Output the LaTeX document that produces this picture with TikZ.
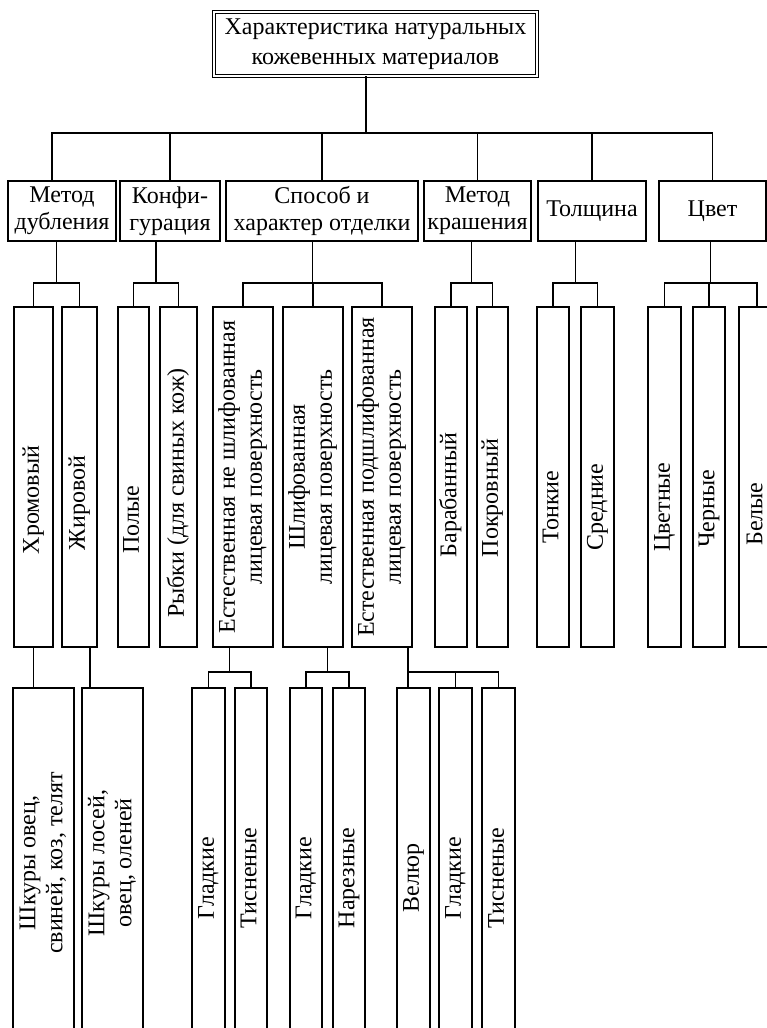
\documentclass[tikz,border=0pt]{standalone}
\usepackage{fontspec}
\setmainfont{Liberation Serif}
\usepackage{tikz}
\usetikzlibrary{calc}
\newcommand{\vlab}[2][0pt]{\rotatebox{90}{\begin{tabular}{@{}c@{}}#2\end{tabular}\hspace*{#1}}}

\begin{document}
\begin{tikzpicture}[
	x=1pt, y=-1pt,
	every node/.style={font=\fontsize{24}{27}\selectfont},
	box/.style={draw, line width=1.4pt, inner sep=0pt, outer sep=0pt, align=center},
	head/.style={box, minimum height=60pt},
	col/.style={box, minimum height=340pt},
	leaf/.style={box, minimum height=380pt},
	link/.style={line width=1.4pt}
	]
	\useasboundingbox (0,0) rectangle (767,1028);
	\clip (0,0) rectangle (767,1028);
	\node[box, double, double distance=2.5pt, line width=1pt, minimum width=323pt, minimum height=64pt, font=\fontsize{24}{30}\selectfont] (top) at (375.5,44) {Характеристика натуральных\\кожевенных материалов};
	\node[head, minimum width=108pt] (tan) at (62,211) {Метод\\дубления};
	\node[head, minimum width=100pt] (cfg) at (170,211) {Конфи-\\гурация};
	\node[head, minimum width=192pt] (fin) at (322,211) {Способ и\\характер отделки};
	\node[head, minimum width=107pt] (dye) at (477.5,211) {Метод\\крашения};
	\node[head, minimum width=108pt] (thk) at (592,211) {Толщина};
	\node[head, minimum width=107pt] (clr) at (712.5,211) {Цвет};
	\node[col, minimum width=39pt] (chrom) at (33.5,477) {\vlab[46pt]{Хромовый}};
	\node[col, minimum width=35pt] (fat) at (79.5,477) {\vlab[52pt]{Жировой}};
	\node[col, minimum width=31pt] (hollow) at (133.5,477) {\vlab[86pt]{Полые}};
	\node[col, minimum width=37pt] (fish) at (178.5,477) {\vlab[32pt]{Рыбки (для свиных кож)}};
	\node[col, minimum width=60pt] (nat) at (243,477) {\vlab{Естественная не шлифованная\\лицевая поверхность}};
	\node[col, minimum width=60pt] (grd) at (313,477) {\vlab{Шлифованная\\лицевая поверхность}};
	\node[col, minimum width=60pt] (semi) at (382,477) {\vlab{Естественная подшлифованная\\лицевая поверхность}};
	\node[col, minimum width=32pt] (drum) at (451,477) {\vlab[36pt]{Барабанный}};
	\node[col, minimum width=31pt] (cover) at (492.5,477) {\vlab[42pt]{Покровный}};
	\node[col, minimum width=32pt] (thin) at (553,477) {\vlab[60pt]{Тонкие}};
	\node[col, minimum width=33pt] (med) at (597.5,477) {\vlab[60pt]{Средние}};
	\node[col, minimum width=33pt] (colr) at (664.5,477) {\vlab[60pt]{Цветные}};
	\node[col, minimum width=32pt] (blk) at (709,477) {\vlab[64pt]{Черные}};
	\node[col, minimum width=36pt] (wht) at (757,477) {\vlab[74pt]{Белые}};
	\node[leaf, minimum height=350pt, minimum width=61pt] (skin1) at (43.5,863) {\vlab{Шкуры овец,\\свиней, коз, телят}};
	\node[leaf, minimum height=350pt, minimum width=61pt] (skin2) at (112.5,863) {\vlab{Шкуры лосей,\\овец, оленей}};
	\node[leaf, minimum width=33pt] (smA) at (208.5,878) {\vlab{Гладкие}};
	\node[leaf, minimum width=32pt] (embA) at (251,878) {\vlab{Тисненые}};
	\node[leaf, minimum width=32pt] (smB) at (306,878) {\vlab{Гладкие}};
	\node[leaf, minimum width=32pt] (cut) at (349,878) {\vlab{Нарезные}};
	\node[leaf, minimum width=33pt] (vel) at (413.5,878) {\vlab{Велюр}};
	\node[leaf, minimum width=33pt] (smC) at (455.5,878) {\vlab{Гладкие}};
	\node[leaf, minimum width=33pt] (embC) at (498.5,878) {\vlab{Тисненые}};
	\coordinate (bar) at ($([xshift=-9.5pt]top.south)+(0,57)$);
	\draw[link] ([xshift=-9.5pt]top.south) -- (bar);
	\draw[link] ([xshift=-10pt]tan.north) |- (bar) -| (clr.north);
	\foreach \n in {cfg,fin,dye,thk}
		\draw[link] (\n.north) -- (\n.north |- bar);
	\coordinate (jt) at ($(chrom.north)!.5!(fat.north)+(0,-24)$);
	\draw[link] (tan.south -| jt) -- (jt);
	\draw[link] (chrom.north) |- (jt) -| (fat.north);
	\coordinate (jc) at ($(hollow.north)!.5!(fish.north)+(0,-24)$);
	\draw[link] (cfg.south -| jc) -- (jc);
	\draw[link] (hollow.north) |- (jc) -| (fish.north);
	\coordinate (jf) at ($(nat.north)!.5!(semi.north)+(0,-24)$);
	\draw[link] (fin.south -| jf) -- (jf);
	\draw[link] (nat.north) |- (jf) -| (semi.north);
	\draw[link] (grd.north) -- (grd.north |- jf);
	\coordinate (jd) at ($(drum.north)!.5!(cover.north)+(0,-24)$);
	\draw[link] (dye.south -| jd) -- (jd);
	\draw[link] (drum.north) |- (jd) -| (cover.north);
	\coordinate (jh) at ($(thin.north)!.5!(med.north)+(0,-24)$);
	\draw[link] (thk.south -| jh) -- (jh);
	\draw[link] (thin.north) |- (jh) -| (med.north);
	\coordinate (jk) at ($(colr.north)!.5!(wht.north)+(0,-24)$);
	\draw[link] (clr.south -| jk) -- (jk);
	\draw[link] (colr.north) |- (jk) -| (wht.north);
	\draw[link] (blk.north) -- (blk.north |- jk);
	\draw[link] (chrom.south) -- (chrom.south |- skin1.north);
	\draw[link] ([xshift=10.5pt]fat.south) -- ([xshift=10.5pt]fat.south |- skin2.north);
	\coordinate (ja) at ($(smA.north)!.5!(embA.north)+(0,-16)$);
	\draw[link] (nat.south -| ja) -- (ja);
	\draw[link] (smA.north) |- (ja) -| (embA.north);
	\coordinate (jb) at ($(smB.north)!.5!(cut.north)+(0,-16)$);
	\draw[link] (grd.south -| jb) -- (jb);
	\draw[link] (smB.north) |- (jb) -| (cut.north);
	\coordinate (jv) at ($([xshift=-5.5pt]vel.north)+(0,-16)$);
	\draw[link] (semi.south -| jv) -- (jv) -- ([xshift=-5.5pt]vel.north);
	\draw[link] (jv) -| (embC.north);
	\draw[link] (smC.north) -- (smC.north |- jv);
\end{tikzpicture}
\end{document}
